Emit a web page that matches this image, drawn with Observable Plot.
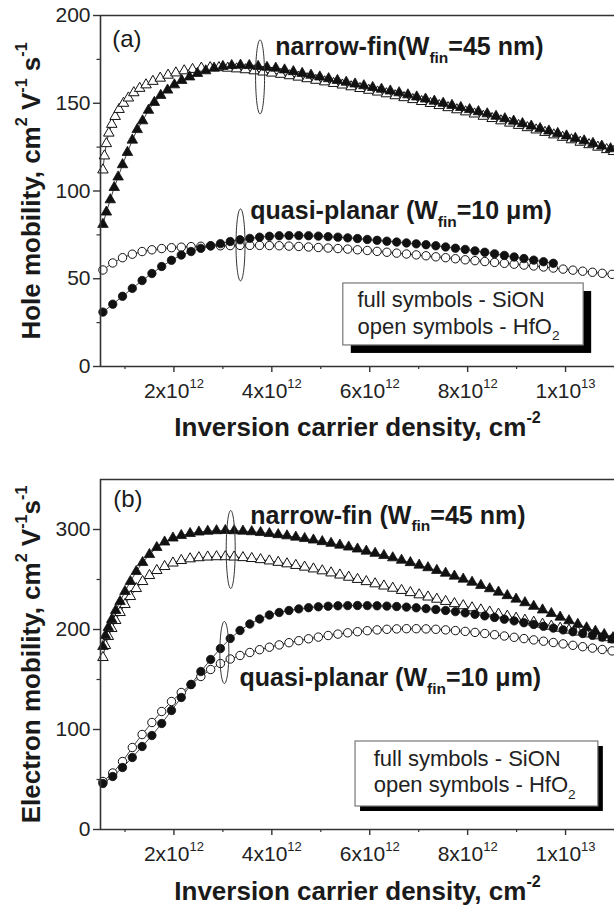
<!DOCTYPE html>
<html><head><meta charset="utf-8">
<script src="https://cdn.jsdelivr.net/npm/d3@7"></script>
<script src="https://cdn.jsdelivr.net/npm/@observablehq/plot@0.6"></script>
<style>
html,body{margin:0;padding:0;background:#fff;}
#chart svg{display:block;}
</style></head><body><div id="chart"></div>
<script>
// ---------------- DATA (x in units of 1e12 cm^-2) ----------------
const xTicksMajor = [2, 4, 6, 8, 10];
const xTickLabels = ["2x10^{12}", "4x10^{12}", "6x10^{12}", "8x10^{12}", "1x10^{13}"];
const xTicksMinor = [1, 3, 5, 7, 9, 11];
const yTicksA = [0, 50, 100, 150, 200];
const yMinorA = [25, 75, 125, 175];
const yTicksB = [0, 100, 200, 300];
const yMinorB = [50, 150, 250];

// (a) hole mobility
const holeNarrowSiON = [[0.55,81],[0.62,88],[0.70,95],[0.78,102],[0.86,108],[0.95,115],[1.05,122],[1.15,129],[1.25,135],[1.36,140],[1.48,146],[1.60,150.5],[1.73,154.5],[1.87,157.5],[2.01,160.5],[2.16,163],[2.32,165],[2.48,167],[2.65,168.5],[2.82,170],[3.0,171],[3.18,171.5],[3.36,171.7],[3.54,171.5],[3.72,171],[3.9,170.5],[4.08,170],[4.26,169],[4.44,168],[4.62,167],[4.8,166],[4.98,165],[5.16,164],[5.34,163],[5.52,162],[5.7,161],[5.88,160],[6.06,159],[6.24,158],[6.42,157],[6.6,156],[6.78,154.8],[6.96,153.6],[7.14,152.4],[7.32,151.2],[7.5,150],[7.68,148.8],[7.86,147.6],[8.04,146.4],[8.22,145.2],[8.4,144],[8.58,142.6],[8.76,141.2],[8.94,139.8],[9.12,138.4],[9.3,137],[9.48,135.6],[9.66,134.2],[9.84,132.8],[10.02,131.4],[10.2,130],[10.38,128.6],[10.56,127.1],[10.74,125.6],[10.92,124.1]];
const holeNarrowHfO2 = [[0.55,112],[0.58,120],[0.62,127],[0.67,133],[0.73,138],[0.80,142.5],[0.88,146.5],[0.97,150],[1.07,153],[1.18,156],[1.30,158.5],[1.43,160.5],[1.57,162.5],[1.72,164.3],[1.88,166],[2.04,167.3],[2.21,168.5],[2.38,169.3],[2.56,170],[2.74,170.3],[2.92,170.3],[3.1,170],[3.28,169.6],[3.46,169.1],[3.64,168.5],[3.82,167.8],[4.0,167.2],[4.18,166.5],[4.36,165.7],[4.54,164.9],[4.72,164],[4.9,163.1],[5.08,162.2],[5.26,161.3],[5.44,160.4],[5.62,159.4],[5.8,158.4],[5.98,157.4],[6.16,156.4],[6.34,155.4],[6.52,154.3],[6.7,153.2],[6.88,152.1],[7.06,151],[7.24,149.9],[7.42,148.7],[7.6,147.5],[7.78,146.3],[7.96,145.1],[8.14,143.9],[8.32,142.6],[8.5,141.3],[8.68,140],[8.86,138.7],[9.04,137.4],[9.22,136.1],[9.4,134.8],[9.58,133.4],[9.76,132],[9.94,130.6],[10.12,129.2],[10.3,127.8],[10.48,126.4],[10.66,125],[10.84,123.6],[10.98,122.5]];
const holePlanarSiON = [[0.55,31],[0.75,35.5],[0.95,40],[1.15,44.5],[1.35,49],[1.55,53],[1.75,57],[1.95,60.5],[2.15,63.5],[2.35,65.5],[2.55,67.3],[2.75,68.8],[2.95,70],[3.15,71.2],[3.35,72.2],[3.55,73],[3.75,73.7],[3.95,74.2],[4.15,74.5],[4.35,74.6],[4.55,74.6],[4.75,74.5],[4.95,74.3],[5.15,74],[5.35,73.7],[5.55,73.3],[5.75,72.9],[5.95,72.4],[6.15,71.9],[6.35,71.4],[6.55,70.9],[6.75,70.4],[6.95,69.9],[7.15,69.4],[7.35,68.8],[7.55,68.1],[7.75,67.4],[7.95,66.7],[8.15,65.9],[8.35,65.1],[8.55,64.2],[8.75,63.3],[8.95,62.4],[9.15,61.5],[9.35,60.6],[9.55,59.7],[9.75,58.8]];
const holePlanarHfO2 = [[0.55,55],[0.75,59],[0.95,62],[1.15,64],[1.35,65.5],[1.55,66.5],[1.75,67.2],[1.95,67.7],[2.15,68],[2.35,68.3],[2.55,68.5],[2.75,68.7],[2.95,68.8],[3.15,68.9],[3.35,69],[3.55,69],[3.75,69],[3.95,68.9],[4.15,68.8],[4.35,68.6],[4.55,68.4],[4.75,68.1],[4.95,67.8],[5.15,67.5],[5.35,67.2],[5.55,66.9],[5.75,66.5],[5.95,66.1],[6.15,65.6],[6.35,65.1],[6.55,64.6],[6.75,64.1],[6.95,63.6],[7.15,63.1],[7.35,62.5],[7.55,62],[7.75,61.4],[7.95,60.8],[8.15,60.3],[8.35,59.8],[8.55,59.3],[8.75,58.8],[8.95,58.3],[9.15,57.8],[9.35,57.3],[9.55,56.7],[9.75,56.1],[9.95,55.5],[10.15,54.9],[10.35,54.3],[10.55,53.7],[10.75,53.1],[10.95,52.5]];

// (b) electron mobility
const elecNarrowSiON = [[0.55,183],[0.60,194],[0.66,202],[0.73,210],[0.81,219],[0.90,228],[1.00,238],[1.11,248],[1.23,258],[1.36,267],[1.50,275],[1.65,282],[1.81,287.5],[1.98,291.5],[2.15,294],[2.33,296],[2.51,297.5],[2.69,298.3],[2.87,298.8],[3.05,299],[3.23,298.8],[3.41,298.4],[3.59,297.8],[3.77,297],[3.95,296],[4.13,294.9],[4.31,293.7],[4.49,292.4],[4.67,291],[4.85,289.5],[5.03,287.9],[5.21,286.2],[5.39,284.4],[5.57,282.5],[5.75,280.5],[5.93,278.4],[6.11,276.2],[6.29,274],[6.47,271.7],[6.65,269.3],[6.83,266.9],[7.01,264.4],[7.19,261.8],[7.37,259.1],[7.55,256.3],[7.73,253.4],[7.91,250.4],[8.09,247.3],[8.27,244.1],[8.45,240.8],[8.63,237.4],[8.81,233.9],[8.99,230.4],[9.17,226.8],[9.35,223.2],[9.53,219.6],[9.71,216],[9.89,212.4],[10.07,208.8],[10.25,205.2],[10.43,201.7],[10.61,198.3],[10.79,195],[10.97,191.8]];
const elecNarrowHfO2 = [[0.55,172],[0.60,184],[0.66,193],[0.73,201],[0.81,209],[0.90,217],[1.00,225],[1.11,233],[1.23,241],[1.36,248],[1.50,254],[1.65,259],[1.81,263],[1.98,266.5],[2.15,269],[2.33,270.7],[2.51,271.8],[2.69,272.5],[2.87,272.8],[3.05,272.8],[3.23,272.5],[3.41,271.9],[3.59,271],[3.77,269.9],[3.95,268.6],[4.13,267.2],[4.31,265.7],[4.49,264.1],[4.67,262.4],[4.85,260.6],[5.03,258.7],[5.21,256.6],[5.39,254.5],[5.57,252.3],[5.75,250.1],[5.93,247.9],[6.11,245.7],[6.29,243.5],[6.47,241.3],[6.65,239.1],[6.83,236.9],[7.01,234.7],[7.19,232.5],[7.37,230.3],[7.55,228.1],[7.73,225.9],[7.91,223.8],[8.09,221.7],[8.27,219.6],[8.45,217.5],[8.63,215.4],[8.81,213.3],[8.99,211.3],[9.17,209.3],[9.35,207.3],[9.53,205.3],[9.71,203.3],[9.89,201.3],[10.07,199.4],[10.25,197.5],[10.43,195.6],[10.61,193.7],[10.79,191.8],[10.97,189.9]];
const elecPlanarSiON = [[0.55,46],[0.75,53],[0.95,62],[1.15,72],[1.35,83],[1.55,94],[1.75,106],[1.95,119],[2.15,132],[2.35,145],[2.55,158],[2.75,170],[2.95,181],[3.15,191],[3.35,199],[3.55,205.5],[3.75,210.5],[3.95,214.5],[4.15,217],[4.35,219],[4.55,220.6],[4.75,221.8],[4.95,222.7],[5.15,223.3],[5.35,223.7],[5.55,223.9],[5.75,224],[5.95,223.9],[6.15,223.7],[6.35,223.4],[6.55,223],[6.75,222.4],[6.95,221.7],[7.15,220.9],[7.35,220],[7.55,219],[7.75,217.9],[7.95,216.6],[8.15,215.2],[8.35,213.6],[8.55,212],[8.75,210.3],[8.95,208.6],[9.15,206.8],[9.35,205],[9.55,203.2],[9.75,201.4],[9.95,199.6],[10.15,197.8],[10.35,196],[10.55,194.2],[10.75,192.4],[10.95,190.6]];
const elecPlanarHfO2 = [[0.55,48],[0.75,56.5],[0.95,68],[1.15,82],[1.35,95],[1.55,107],[1.75,118],[1.95,128],[2.15,137],[2.35,145],[2.55,153],[2.75,160],[2.95,166],[3.15,170.5],[3.35,174],[3.55,177],[3.75,179.8],[3.95,182.3],[4.15,184.6],[4.35,186.8],[4.55,188.8],[4.75,190.7],[4.95,192.4],[5.15,194],[5.35,195.4],[5.55,196.7],[5.75,197.8],[5.95,198.8],[6.15,199.6],[6.35,200.2],[6.55,200.6],[6.75,200.8],[6.95,200.8],[7.15,200.6],[7.35,200.2],[7.55,199.6],[7.75,198.9],[7.95,198.1],[8.15,197.1],[8.35,196],[8.55,194.8],[8.75,193.5],[8.95,192.2],[9.15,190.9],[9.35,189.6],[9.55,188.3],[9.75,187],[9.95,185.6],[10.15,184.2],[10.35,182.8],[10.55,181.4],[10.75,180],[10.95,178.6]];

// annotations (data coordinates)
const labelsA = [
  {x: 0.74, y: 182, text: "(a)", kind: "panel"},
  {x: 4.07, y: 177.4, text: "narrow-fin(W_{fin}=45 nm)", kind: "note"},
  {x: 3.56, y: 84, text: "quasi-planar (W_{fin}=10 μm)", kind: "note"}
];
const ellipsesA = [{x: 3.76, y: 165, ry: 37}, {x: 3.36, y: 69.3, ry: 36}];
const legendA = {x1: 5.46, x2: 10.37, y1: 12, y2: 47.3, tx: 5.75, l1: 33.7, l2: 18.6};

const labelsB = [
  {x: 0.76, y: 323, text: "(b)", kind: "panel"},
  {x: 3.56, y: 306, text: "narrow-fin (W_{fin}=45 nm)", kind: "note"},
  {x: 3.34, y: 143.4, text: "quasi-planar (W_{fin}=10 μm)", kind: "note"}
];
const ellipsesB = [{x: 3.16, y: 280, ry: 39}, {x: 3.03, y: 177, ry: 31}];
const legendB = {x1: 5.71, x2: 10.67, y1: 23, y2: 88, tx: 6.08, l1: 64, l2: 37.3};

const legendLines = ["full symbols - SiON", "open symbols - HfO_{2}"];
const xTitle = "Inversion carrier density, cm^{-2}";
const yTitleA = "Hole mobility, cm^{2} V^{-1} s^{-1}";
const yTitleB = "Electron mobility, cm^{2} V^{-1}s^{-1}";

// ---------------- RENDER ----------------
const FONT = "'Liberation Sans', Arial, Helvetica, sans-serif";
const AX = "#333";
const INK = "#111";
const rows = p => p.map(([x, y]) => ({x, y}));
const tickLabel = new Map(xTicksMajor.map((d, i) => [d, xTickLabels[i]]));

function ellipseSymbol(rx, ry) {
  const k = 0.5522847498;
  return {draw(ctx) {
    ctx.moveTo(rx, 0);
    ctx.bezierCurveTo(rx, k * ry, k * rx, ry, 0, ry);
    ctx.bezierCurveTo(-k * rx, ry, -rx, k * ry, -rx, 0);
    ctx.bezierCurveTo(-rx, -k * ry, -k * rx, -ry, 0, -ry);
    ctx.bezierCurveTo(k * rx, -ry, rx, -k * ry, rx, 0);
    ctx.closePath();
  }};
}

function richify(root) {
  d3.select(root).selectAll("text").each(function () {
    const s = this.textContent;
    if (!/[\^_]\{/.test(s)) return;
    const parts = [];
    const re = /([\^_])\{([^}]*)\}/g;
    let last = 0, m;
    while ((m = re.exec(s))) {
      if (m.index > last) parts.push({t: s.slice(last, m.index)});
      parts.push({t: m[2], k: m[1]});
      last = re.lastIndex;
    }
    if (last < s.length) parts.push({t: s.slice(last)});
    while (this.firstChild) this.removeChild(this.firstChild);
    const sel = d3.select(this);
    let shift = 0;
    for (const p of parts) {
      const ts = sel.append("tspan").text(p.t);
      let target = 0, size = 1;
      if (p.k === "^") { target = -0.48; size = 0.62; }
      else if (p.k === "_") { target = 0.3; size = 0.62; }
      const delta = target - shift;
      if (size !== 1) ts.attr("font-size", size + "em");
      if (delta) ts.attr("dy", (delta / size).toFixed(3) + "em");
      shift = target;
    }
  });
}

function panel({height, marginBottom, yMax, yTicks, yMinor, series, labels, ellipses, legend, shadow, yTitle, titleDy}) {
  const [nS, nH, pS, pH] = series;
  const marks = [
    // legend box with shadow
    Plot.rect([legend], {x1: "x1", x2: "x2", y1: "y1", y2: "y2", fill: "#000", dx: shadow, dy: shadow}),
    Plot.rect([legend], {x1: "x1", x2: "x2", y1: "y1", y2: "y2", fill: "#fff", stroke: "#777", strokeWidth: 1.2}),
    Plot.text(legendLines, {x: legend.tx, y: (d, i) => i === 0 ? legend.l1 : legend.l2, text: d => d,
      textAnchor: "start", lineAnchor: "bottom", fontSize: 22, fill: "#222"}),
    // series lines
    ...[nS, nH, pS, pH].map(s => Plot.line(rows(s), {x: "x", y: "y", stroke: INK, strokeWidth: 0.8})),
    // markers
    Plot.dot(rows(pH), {x: "x", y: "y", r: 4.2, symbol: "circle", fill: "#fff", stroke: INK, strokeWidth: 1}),
    Plot.dot(rows(nH), {x: "x", y: "y", r: 3.9, symbol: "triangle", fill: "#fff", stroke: INK, strokeWidth: 1}),
    Plot.dot(rows(pS), {x: "x", y: "y", r: 4.2, symbol: "circle", fill: INK, stroke: INK, strokeWidth: 0.8}),
    Plot.dot(rows(nS), {x: "x", y: "y", r: 3.9, symbol: "triangle", fill: INK, stroke: INK, strokeWidth: 0.8}),
    // ellipses
    ...ellipses.map(e => Plot.dot([e], {x: "x", y: "y", symbol: ellipseSymbol(4.5, e.ry), fill: "none", stroke: "#333", strokeWidth: 1})),
    // annotations
    Plot.text(labels.filter(d => d.kind === "note"), {x: "x", y: "y", text: "text", textAnchor: "start", lineAnchor: "bottom",
      fontSize: 25, fontWeight: "bold", fill: "#1a1a1a"}),
    Plot.text(labels.filter(d => d.kind === "panel"), {x: "x", y: "y", text: "text", textAnchor: "start", lineAnchor: "bottom",
      fontSize: 24, fill: "#1a1a1a"}),
    // frame
    Plot.ruleY([yMax], {stroke: AX, strokeWidth: 1.6}),
    Plot.ruleY([0], {stroke: AX, strokeWidth: 1.6}),
    Plot.ruleX([0.5], {stroke: AX, strokeWidth: 1.6}),
    // axes
    Plot.axisX({ticks: xTicksMajor, tickFormat: d => tickLabel.get(d), tickSize: 6, tickPadding: 11, fontSize: 21, label: null, stroke: AX, strokeWidth: 1.4}),
    Plot.axisX({ticks: xTicksMinor, tickFormat: () => "", tickSize: 3, label: null, stroke: AX, strokeWidth: 1.2}),
    Plot.axisY({ticks: yTicks, tickSize: 7, tickPadding: 3, fontSize: 21, label: null, stroke: AX, strokeWidth: 1.4}),
    Plot.axisY({ticks: yMinor, tickFormat: () => "", tickSize: 3.5, label: null, stroke: AX, strokeWidth: 1.2}),
    // titles
    Plot.text([xTitle], {frameAnchor: "bottom", text: d => d, dy: titleDy, lineAnchor: "bottom", textAnchor: "middle",
      fontSize: 26, fontWeight: "bold", fill: "#1a1a1a"}),
    Plot.text([yTitle], {frameAnchor: "left", text: d => d, dx: -61, rotate: -90, lineAnchor: "bottom", textAnchor: "middle",
      fontSize: 26, fontWeight: "bold", fill: "#1a1a1a"})
  ];
  const svg = Plot.plot({
    width: 614, height,
    marginTop: 15, marginBottom, marginLeft: 100, marginRight: 0,
    style: {fontFamily: FONT, fontSize: "21px", color: "#222", background: "#fff", overflow: "visible"},
    x: {domain: [0.5, 11]},
    y: {domain: [0, yMax]},
    marks
  });
  richify(svg);
  return svg;
}

const chart = document.getElementById("chart");
chart.append(panel({
  height: 464, marginBottom: 98, yMax: 200, yTicks: yTicksA, yMinor: yMinorA,
  series: [holeNarrowSiON, holeNarrowHfO2, holePlanarSiON, holePlanarHfO2],
  labels: labelsA, ellipses: ellipsesA, legend: legendA, shadow: 8, yTitle: yTitleA, titleDy: 69
}));
chart.append(panel({
  height: 443, marginBottom: 78, yMax: 350, yTicks: yTicksB, yMinor: yMinorB,
  series: [elecNarrowSiON, elecNarrowHfO2, elecPlanarSiON, elecPlanarHfO2],
  labels: labelsB, ellipses: ellipsesB, legend: legendB, shadow: 5, yTitle: yTitleB, titleDy: 70
}));
</script></body></html>
